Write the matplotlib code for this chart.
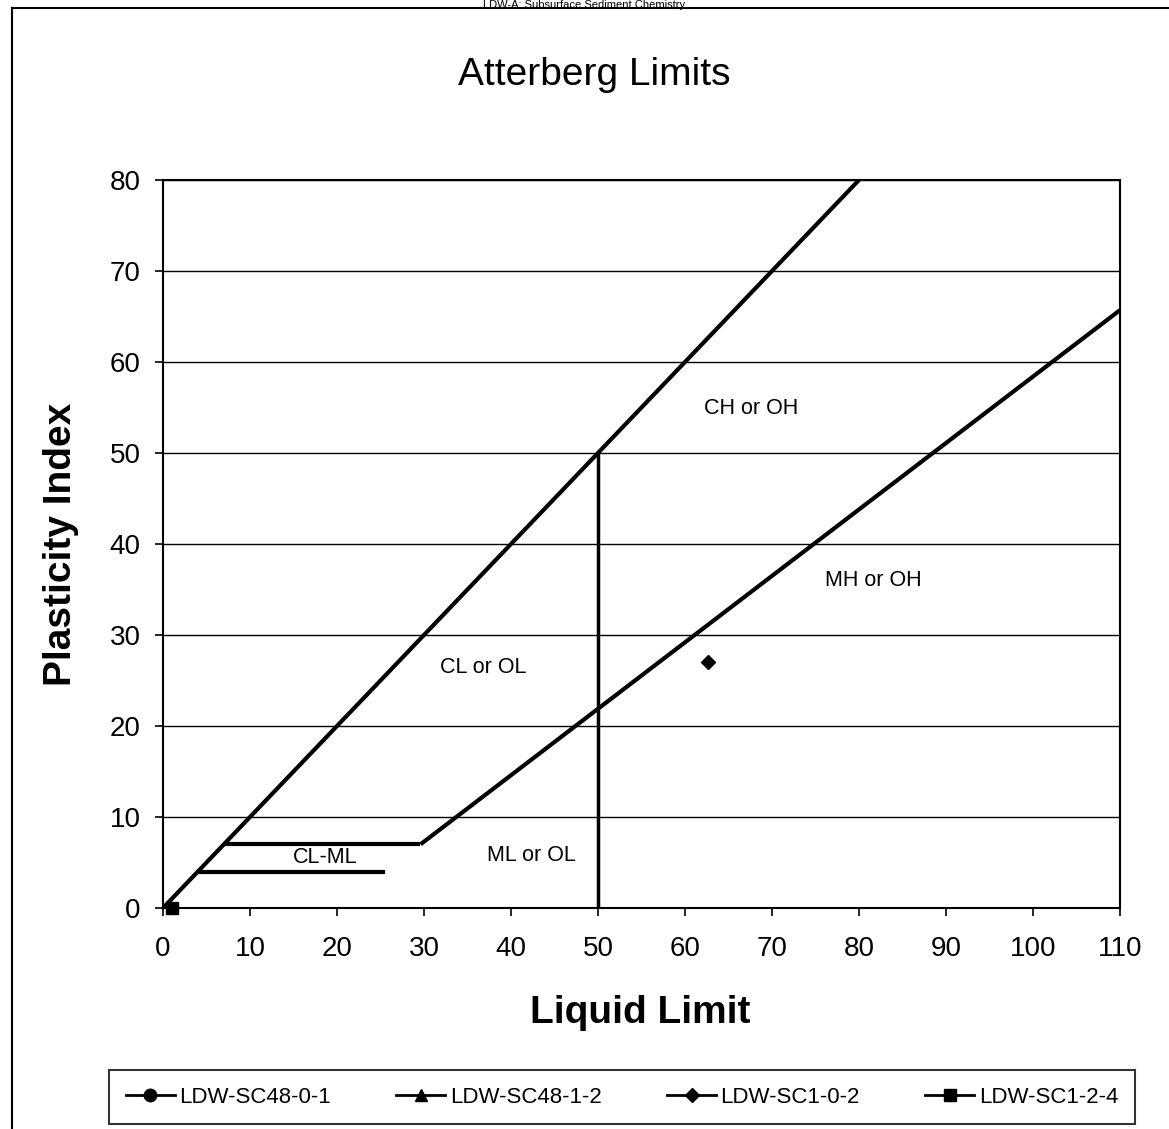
import matplotlib.pyplot as plt
from matplotlib.lines import Line2D

plt.rcParams['font.family'] = ['Liberation Sans', 'DejaVu Sans']

# classification lines (Liquid Limit, Plasticity Index)
u_line_ll = [0, 80]
u_line_pi = [0, 80]
a_line_ll = [29.6, 110]
a_line_pi = [7, 65.7]
ll50_ll = [50, 50]
ll50_pi = [0, 50]
clml_top_ll = [7, 29.6]
clml_top_pi = [7, 7]
clml_bot_ll = [4, 25.5]
clml_bot_pi = [4, 4]

# region labels
zone_names = ["CH or OH", "MH or OH", "CL or OL", "ML or OL", "CL-ML"]
zone_ll = [67.6, 81.7, 36.8, 42.4, 18.7]
zone_pi = [54.9, 36.0, 26.4, 5.8, 5.6]

# samples
samples = ["LDW-SC48-0-1", "LDW-SC48-1-2", "LDW-SC1-0-2", "LDW-SC1-2-4"]
sample_markers = ["o", "^", "D", "s"]
sample_ll = [None, None, 62.7, 1.0]
sample_pi = [None, None, 27.0, 0.0]

fig = plt.figure(figsize=(11.69, 11.29), dpi=100)
ax = fig.add_axes([0.1394, 0.1957, 0.8187, 0.6449])

for xs, ys in [(u_line_ll, u_line_pi), (a_line_ll, a_line_pi), (clml_top_ll, clml_top_pi),
               (clml_bot_ll, clml_bot_pi)]:
    ax.plot(xs, ys, color='black', lw=3, solid_capstyle='butt', zorder=3)
ax.plot(ll50_ll, ll50_pi, color='black', lw=2.5, zorder=3)

for name, x, y in zip(zone_names, zone_ll, zone_pi):
    ax.text(x, y, name, fontsize=15.5, ha='center', va='center')

handles = []
for name, m, x, y in zip(samples, sample_markers, sample_ll, sample_pi):
    if x is not None:
        ax.plot([x], [y], marker=m, color='black', ms=9 if m != 'D' else 7, ls='none',
                zorder=5, clip_on=False)
    handles.append(Line2D([], [], color='black', lw=2, marker=m, ms=9 if m != 'D' else 7,
                          label=name))

ax.set_xlim(0, 110)
ax.set_ylim(0, 80)
ax.set_xticks(range(0, 111, 10))
ax.set_yticks(range(0, 81, 10))
ax.grid(axis='y', color='black', lw=1)
ax.set_axisbelow(True)
for s in ax.spines.values():
    s.set_linewidth(1.5)
ax.tick_params(labelsize=20, direction='out', length=6, width=1.2)
ax.tick_params(axis='x', pad=14)
ax.tick_params(axis='y', pad=10)

ax.set_ylabel("Plasticity Index", fontsize=28, fontweight='bold', labelpad=22)
fig.text(640 / 1169, 1 - 1013 / 1129, "Liquid Limit", fontsize=28, fontweight='bold',
         ha='center', va='center')
fig.text(594 / 1169, 1 - 75 / 1129, "Atterberg Limits", fontsize=28, ha='center',
         va='center')

leg = fig.legend(handles=handles, loc='center', bbox_to_anchor=(0.532, 0.0283),
                 ncol=4, fontsize=16, frameon=True, fancybox=False, edgecolor='black',
                 handlelength=2.2, columnspacing=2.95, borderpad=0.75, handletextpad=0.2,
                 borderaxespad=0)
leg.get_frame().set_linewidth(1.5)

# page frame
fig.add_artist(Line2D([12 / 1169, 1], [1 - 8 / 1129, 1 - 8 / 1129], color='black', lw=1.5))
fig.add_artist(Line2D([12 / 1169, 12 / 1169], [0, 1 - 8 / 1129], color='black', lw=1.5))
fig.text(0.5, 1.0, "LDW-A: Subsurface Sediment Chemistry", ha='center', va='top',
         fontsize=8)

fig.savefig("out.png", dpi=100)
